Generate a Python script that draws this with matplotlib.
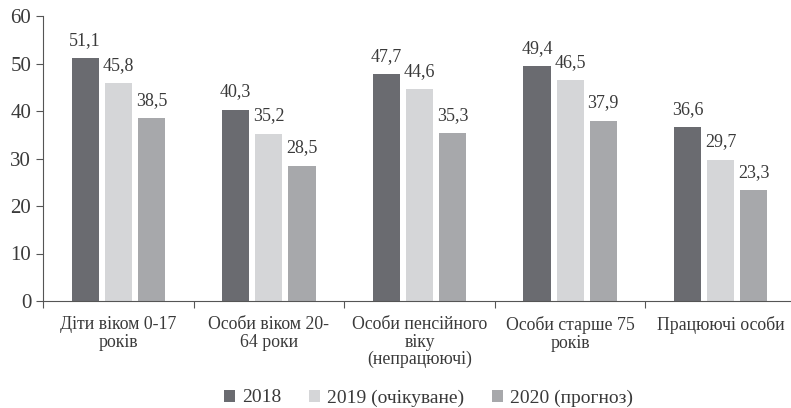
import numpy as np
import matplotlib
matplotlib.use('Agg')
import matplotlib.pyplot as plt

categories = ['Діти віком 0-17\nроків', 'Особи віком 20-\n64 роки',
              'Особи пенсійного\nвіку\n(непрацюючі)', 'Особи старше 75\nроків',
              'Працюючі особи']
series_names = ['2018', '2019 (очікуване)', '2020 (прогноз)']
v2018 = [51.1, 40.3, 47.7, 49.4, 36.6]
v2019 = [45.8, 35.2, 44.6, 46.5, 29.7]
v2020 = [38.5, 28.5, 35.3, 37.9, 23.3]
colors = ['#6a6b70', '#d5d6d8', '#a7a8ab']

plt.rcParams['font.family'] = ['Liberation Serif', 'DejaVu Serif']
txt = '#3a3a3a'

fig = plt.figure(figsize=(7.91, 4.08), dpi=100)
ax = fig.add_axes([43 / 791, 1 - 301 / 408, 753 / 791, 285 / 408])

x = np.arange(len(categories))
w = 0.18
step = 0.22
for i, (vals, name, c) in enumerate(zip([v2018, v2019, v2020], series_names, colors)):
    pos = x + (i - 1) * step
    ax.bar(pos, vals, w, color=c, label=name, zorder=2)
    for p, v in zip(pos, vals):
        ax.text(p, v + 2.0, f'{v:.1f}'.replace('.', ','), ha='center', va='bottom',
                fontsize=13, color=txt)

ax.set_xlim(-0.5, len(categories) - 0.5)
ax.set_ylim(0, 60)
ax.set_yticks(range(0, 61, 10))
ax.tick_params(axis='y', labelsize=15, colors=txt, length=5, color='#555555')
ax.set_xticks(np.arange(-0.5, len(categories) - 0.4, 1))
ax.set_xticklabels([])
ax.set_xticks(x, minor=True)
ax.set_xticklabels(categories, minor=True, fontsize=12.8, color=txt, linespacing=1.02)
ax.tick_params(axis='x', which='major', length=5, color='#555555', direction='out')
ax.tick_params(axis='x', which='minor', length=0, pad=11)
for s in ['top', 'right']:
    ax.spines[s].set_visible(False)
for s in ['left', 'bottom']:
    ax.spines[s].set_color('#555555')

ax.legend(loc='center', bbox_to_anchor=(0.512, -0.34), ncol=3, frameon=False,
          fontsize=14, handlelength=0.57, handleheight=0.57, columnspacing=1.44,
          handletextpad=0.36, labelcolor=txt, borderpad=0)

fig.savefig('out.png', dpi=100)
